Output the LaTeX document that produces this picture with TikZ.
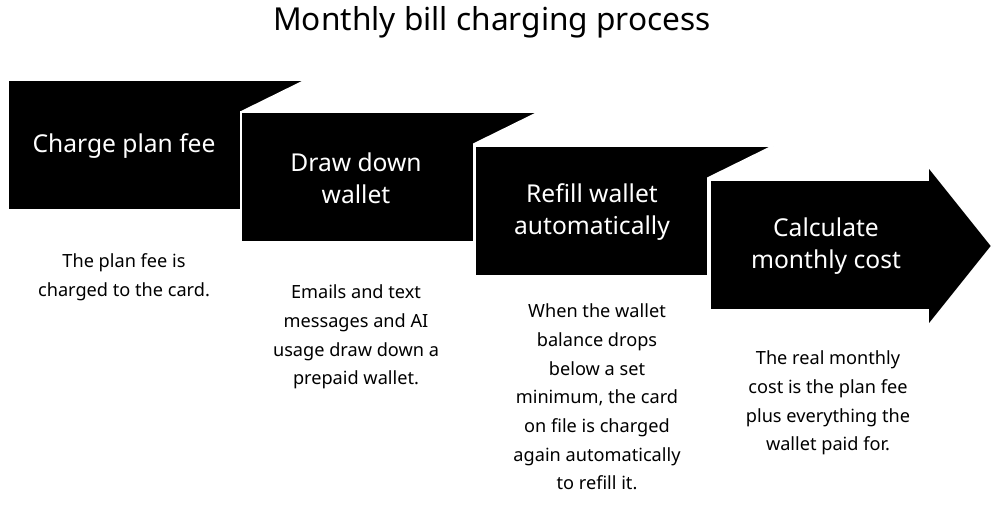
\documentclass[tikz,border=0pt]{standalone}
\usepackage{fontspec}
\setmainfont{Noto Sans}
\begin{document}
\begin{tikzpicture}[x=0.03cm,y=-0.03cm,
  box/.style={fill=black,draw=white,line width=1.5pt,line join=miter},
  lbl/.style={text=white,align=center,font=\fontsize{21}{27}\selectfont},
  desc/.style={align=center,font=\fontsize{15.5}{24.5}\selectfont}]
\useasboundingbox (0,0) rectangle (1000,511);
\node[font=\bfseries\fontsize{27}{32}\selectfont] (title) at (492,22) {Monthly bill charging process};
\foreach \x/\y in {8/80,241/112,475/146}{
  \draw[box] (\x,\y) -- (\x+298,\y) -- (\x+233,\y+32) -- (\x+233,\y+130) -- (\x,\y+130) -- cycle;
}
\draw[box] (710,180) -- (928,180) -- (928,166) -- (992,246) -- (928,326) -- (928,310) -- (710,310) -- cycle;
\node[lbl] (b1) at (124,146) {Charge plan fee};
\node[lbl] (b2) at (356,178) {Draw down\\wallet};
\node[lbl] (b3) at (592,212) {Refill wallet\\automatically};
\node[lbl] (b4) at (826,246) {Calculate\\monthly cost};
\node[desc] (d1) at (124,277) {The plan fee is\\charged to the card.};
\node[desc] (d2) at (356,337) {Emails and text\\messages and AI\\usage draw down a\\prepaid wallet.};
\node[desc] (d3) at (597,397) {When the wallet\\balance drops\\below a set\\minimum, the card\\on file is charged\\again automatically\\to refill it.};
\node[desc] (d4) at (828,403) {The real monthly\\cost is the plan fee\\plus everything the\\wallet paid for.};
\end{tikzpicture}
\end{document}
